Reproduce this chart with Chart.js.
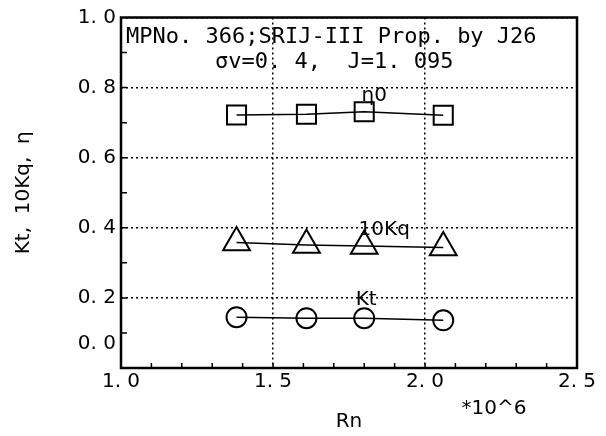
<!DOCTYPE html>
<html>
<head>
<meta charset="utf-8">
<script src="https://cdn.jsdelivr.net/npm/chart.js@4.4.0/dist/chart.umd.min.js"></script>
<style>
  html, body { margin: 0; padding: 0; background: #fff; }
  canvas { display: block; }
</style>
</head>
<body>
<canvas id="chart" width="606" height="436"></canvas>
<script>
// Rn (*10^6) of each test point
const rn = [1.38, 1.61, 1.80, 2.06];
const eta0 = [0.722, 0.724, 0.731, 0.721];
const kq10 = [0.358, 0.351, 0.348, 0.344];
const kt = [0.145, 0.142, 0.142, 0.136];

const seriesNames = ['η0', '10Kq', 'Kt'];
const titleLines = ['MPNo. 366;SRIJ-III Prop. by J26', 'σv=0. 4,  J=1. 095'];

const xTicks = [1.0, 1.5, 2.0, 2.5];
const yTicks = [0.0, 0.2, 0.4, 0.6, 0.8, 1.0];

const FONT = 'DejaVu Sans';
const MONO = 'DejaVu Sans Mono';

function fmt(v) {
    return v.toFixed(1).replace('.', '. ');
}

function points(ys) {
    return rn.map((x, i) => ({ x: x, y: ys[i] }));
}

function series(label, ys, style, radius) {
    return {
        label: label,
        data: points(ys),
        showLine: true,
        borderColor: '#000',
        borderWidth: 1.5,
        pointStyle: style,
        pointRadius: radius,
        pointHoverRadius: radius,
        pointBorderWidth: 2,
        pointBorderColor: '#000',
        pointBackgroundColor: 'rgba(0,0,0,0)'
    };
}

// frame, minor ticks and the texts written inside the plot
const decorations = {
    id: 'decorations',
    afterDraw(chart) {
        const ctx = chart.ctx;
        const a = chart.chartArea;
        const xs = chart.scales.x;
        const ys = chart.scales.y;
        ctx.save();
        ctx.strokeStyle = '#000';

        // minor ticks, inward
        ctx.lineWidth = 1.5;
        ctx.beginPath();
        for (let i = 1; i < 10; i++) {
            const py = ys.getPixelForValue(i / 10);
            ctx.moveTo(a.left, py);
            ctx.lineTo(a.left + 6, py);
        }
        for (let i = 11; i < 25; i++) {
            const px = xs.getPixelForValue(i / 10);
            ctx.moveTo(px, a.bottom);
            ctx.lineTo(px, a.bottom - 5);
        }
        ctx.stroke();

        // box
        ctx.lineWidth = 2.5;
        ctx.strokeRect(a.left, a.top, a.right - a.left, a.bottom - a.top);

        ctx.fillStyle = '#000';
        ctx.textBaseline = 'alphabetic';
        ctx.textAlign = 'left';
        ctx.font = '22px "' + MONO + '"';
        ctx.fillText(titleLines[0], a.left + 5, a.top + 25);
        ctx.fillText(titleLines[1], a.left + 94, a.top + 50);

        // series names next to the third point
        ctx.font = '20px "' + FONT + '"';
        ctx.textAlign = 'center';
        ctx.textBaseline = 'middle';
        const offsets = [[10, -16], [20, -16], [2, -18]];
        seriesNames.forEach((name, i) => {
            const p = chart.getDatasetMeta(i).data[2];
            ctx.fillText(name, p.x + offsets[i][0], p.y + offsets[i][1]);
        });

        // exponent of the x axis
        ctx.fillText('*10^6', a.right - 83, a.bottom + 41);
        ctx.restore();
    }
};

new Chart(document.getElementById('chart').getContext('2d'), {
    type: 'scatter',
    data: {
        datasets: [
            series(seriesNames[0], eta0, 'rect', 13.5),
            series(seriesNames[1], kq10, 'triangle', 15.5),
            series(seriesNames[2], kt, 'circle', 10)
        ]
    },
    options: {
        responsive: false,
        animation: false,
        layout: { padding: { top: 15, right: 29, left: 0, bottom: 0 } },
        plugins: {
            legend: { display: false },
            tooltip: { enabled: false }
        },
        scales: {
            x: {
                type: 'linear',
                min: 1.0,
                max: 2.5,
                afterBuildTicks: s => { s.ticks = xTicks.map(v => ({ value: v })); },
                afterFit: s => { s.height = 68; },
                grid: { color: '#000', lineWidth: 1.5, drawTicks: false },
                border: { display: false, dash: [2, 3] },
                ticks: {
                    color: '#000',
                    padding: 2,
                    maxRotation: 0,
                    autoSkip: false,
                    font: { family: FONT, size: 20 },
                    callback: v => fmt(v)
                },
                title: {
                    display: true,
                    text: 'Rn',
                    color: '#000',
                    padding: { top: 0, bottom: 2 },
                    font: { family: FONT, size: 20 }
                }
            },
            y: {
                type: 'linear',
                min: 0.0,
                max: 1.0,
                afterBuildTicks: s => { s.ticks = yTicks.map(v => ({ value: v })); },
                afterFit: s => { s.width = 121; },
                grid: { color: '#000', lineWidth: 1.5, drawTicks: false },
                border: { display: false, dash: [2, 3] },
                ticks: {
                    color: '#000',
                    padding: 5,
                    autoSkip: false,
                    font: { family: FONT, size: 20 },
                    // lowest label sits above the x labels, as in the original
                    callback: v => (v === 0 ? [fmt(v), '', ''] : fmt(v))
                },
                title: {
                    display: true,
                    text: 'Kt,  10Kq,  η',
                    color: '#000',
                    padding: { top: 12, bottom: 0 },
                    font: { family: FONT, size: 20 }
                }
            }
        }
    },
    plugins: [decorations]
});
</script>
</body>
</html>
